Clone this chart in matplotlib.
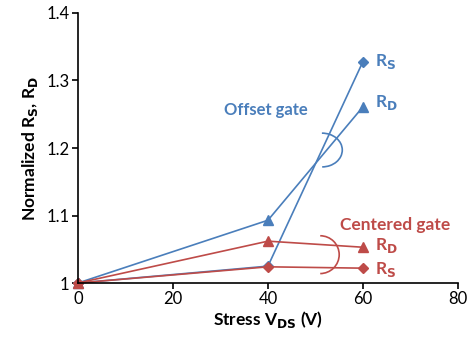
import matplotlib.pyplot as plt
from matplotlib.patches import Arc

plt.rcParams['font.family'] = ['Lato', 'DejaVu Sans']

stress = [0, 40, 60]
offset_rs = [1.0, 1.025, 1.328]
offset_rd = [1.0, 1.093, 1.261]
centered_rd = [1.0, 1.062, 1.053]
centered_rs = [1.0, 1.024, 1.022]

blue = "#4A7EBB"
red = "#BE4B48"

fig = plt.figure(figsize=(4.77, 3.40), dpi=100)
ax = fig.add_axes([0.1635, 0.1676, 0.7965, 0.7942])

ax.plot(stress, offset_rs, color=blue, lw=1.2, marker="D", ms=5)
ax.plot(stress, offset_rd, color=blue, lw=1.2, marker="^", ms=6.5)
ax.plot(stress, centered_rs, color=red, lw=1.2, marker="D", ms=5)
ax.plot(stress, centered_rd, color=red, lw=1.2, marker="^", ms=6.5)

ax.set_xlim(0, 80)
ax.set_ylim(1, 1.4)
ax.set_xticks([0, 20, 40, 60, 80])
ax.set_yticks([1, 1.1, 1.2, 1.3, 1.4])
ax.set_yticklabels(["1", "1.1", "1.2", "1.3", "1.4"])
ax.tick_params(labelsize=12, direction="out", length=4, width=1.2, colors="black", pad=2)
for s in ["top", "right"]:
    ax.spines[s].set_visible(False)
for s in ["left", "bottom"]:
    ax.spines[s].set_linewidth(1.2)
for line in ax.lines:
    line.set_clip_on(False)

ax.set_xlabel("Stress V$_{\\mathbf{DS}}$ (V)", fontsize=12.5, fontweight="bold", labelpad=1)
ax.set_ylabel("Normalized R$_{\\mathbf{S}}$, R$_{\\mathbf{D}}$", fontsize=12.5, fontweight="bold", labelpad=5)

# series labels
ax.text(62.5, offset_rs[2], "R$_{\\mathbf{S}}$", color=blue, fontsize=12.5, fontweight="bold", va="center")
ax.text(62.5, offset_rd[2] + 0.006, "R$_{\\mathbf{D}}$", color=blue, fontsize=12.5, fontweight="bold", va="center")
ax.text(62.5, centered_rd[2] + 0.002, "R$_{\\mathbf{D}}$", color=red, fontsize=12.5, fontweight="bold", va="center")
ax.text(62.5, centered_rs[2] - 0.002, "R$_{\\mathbf{S}}$", color=red, fontsize=12.5, fontweight="bold", va="center")

ax.text(39.6, 1.256, "Offset gate", color=blue, fontsize=12, fontweight="bold", ha="center", va="center")
ax.text(66.7, 1.086, "Centered gate", color=red, fontsize=12.5, fontweight="bold", ha="center", va="center")

# curly brackets
ax.add_patch(Arc((51.4, 1.197), 8.5, 0.05, theta1=-55, theta2=150, color=blue, lw=1.2))
ax.add_patch(Arc((51.0, 1.042), 8.0, 0.056, theta1=-80, theta2=80, color=red, lw=1.2))

fig.savefig("out.png", dpi=100)
